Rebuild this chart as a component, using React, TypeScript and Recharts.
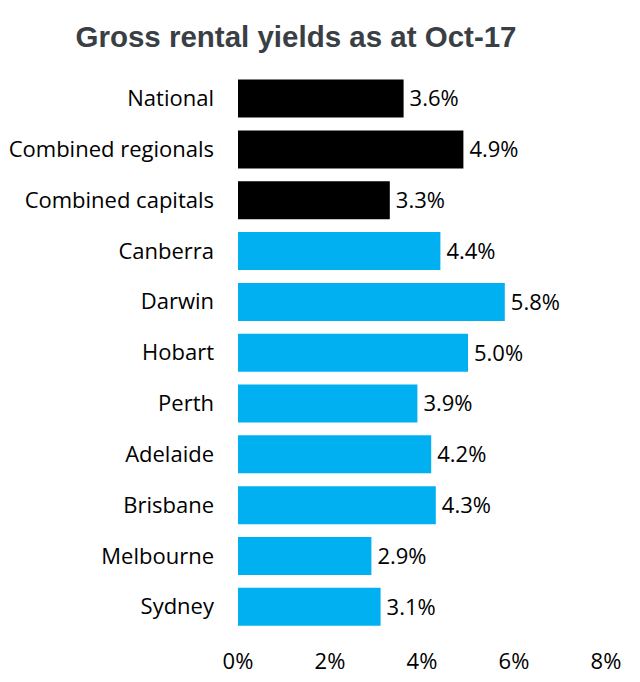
import React from 'react';
import { BarChart, Bar, XAxis, YAxis, Cell, LabelList } from 'recharts';

const categories = ['National', 'Combined regionals', 'Combined capitals', 'Canberra', 'Darwin', 'Hobart', 'Perth', 'Adelaide', 'Brisbane', 'Melbourne', 'Sydney'];
const yields = [3.6, 4.9, 3.3, 4.4, 5.8, 5.0, 3.9, 4.2, 4.3, 2.9, 3.1];
const groups = ['aggregate', 'aggregate', 'aggregate', 'city', 'city', 'city', 'city', 'city', 'city', 'city', 'city'];
const xTicks = [0, 2, 4, 6, 8];
const title = 'Gross rental yields as at Oct-17';

const data = categories.map((name, i) => ({ name, value: yields[i], group: groups[i] }));
const groupColor: Record<string, string> = { aggregate: '#000000', city: '#00B0F0' };

const labelFont = "'Open Sans', 'Noto Sans', sans-serif";

export default function App() {
  return (
    <div style={{ position: 'absolute', left: 0, top: 0, width: 640, height: 682, background: '#fff' }}>
      <div
        style={{
          position: 'absolute',
          left: 0,
          width: 592,
          top: 20,
          textAlign: 'center',
          fontFamily: "'Liberation Sans', Arial, sans-serif",
          fontWeight: 'bold',
          fontSize: 29.5,
          lineHeight: '34px',
          color: '#3a3f45',
          whiteSpace: 'nowrap',
        }}
      >
        {title}
      </div>
      <BarChart
        width={640}
        height={682}
        data={data}
        layout="vertical"
        margin={{ top: 73, right: 34, bottom: 20, left: 0 }}
        barCategoryGap="13%"
        style={{ position: 'absolute', left: 0, top: 0 }}
      >
        <XAxis
          type="number"
          domain={[0, 8]}
          ticks={xTicks}
          tickFormatter={(v: number) => `${v}%`}
          axisLine={false}
          tickLine={false}
          tickSize={0}
          tickMargin={21}
          height={30}
          interval={0}
          tick={{ fill: '#000', fontSize: 22, fontFamily: labelFont }}
        />
        <YAxis
          type="category"
          dataKey="name"
          width={238}
          axisLine={false}
          tickLine={false}
          tickSize={0}
          tickMargin={24}
          interval={0}
          tick={{ fill: '#000', fontSize: 22, fontFamily: labelFont }}
        />
        <Bar dataKey="value" isAnimationActive={false}>
          {data.map((d, i) => (
            <Cell key={i} fill={groupColor[d.group]} />
          ))}
          <LabelList
            dataKey="value"
            position="right"
            offset={6}
            formatter={(v: number) => `${v.toFixed(1)}%`}
            style={{ fill: '#000', fontSize: 22, fontFamily: labelFont }}
          />
        </Bar>
      </BarChart>
    </div>
  );
}
